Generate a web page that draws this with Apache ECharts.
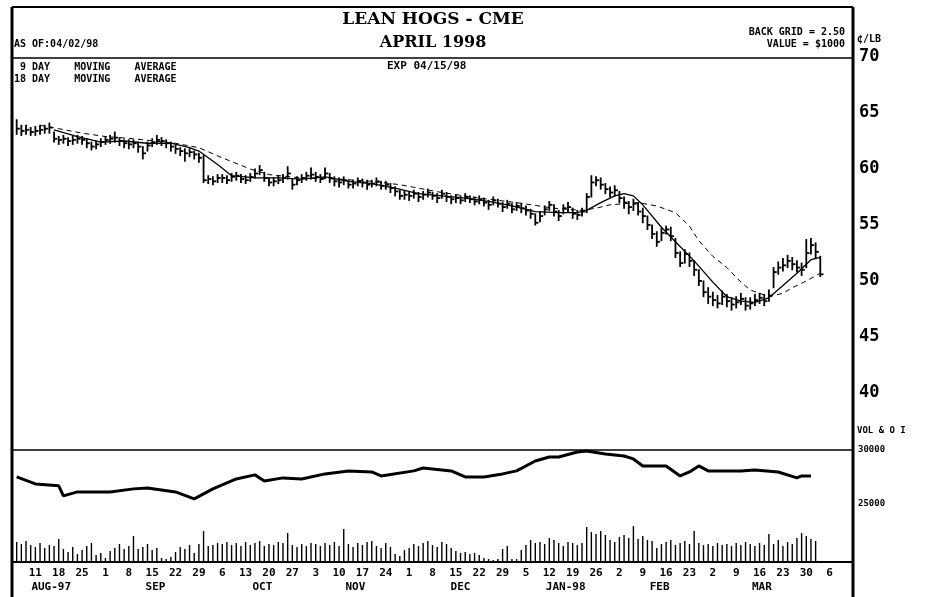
<!DOCTYPE html>
<html><head><meta charset="utf-8">
<script src="https://cdn.jsdelivr.net/npm/echarts@6/dist/echarts.min.js"></script>
<style>html,body{margin:0;padding:0;background:#fff}#c{width:929px;height:597px}</style>
</head><body><div id="c"></div>
<script>
// trading-day index: 0 = Mon Aug 4 1997, 5 trading days per week
const firstDay = 1;
const highs = [64.4,63.9,63.9,63.7,
63.8,63.9,63.9,64.1,63.3, 62.9,63.0,62.8,62.9,63.0, 62.9,62.7,62.4,62.5,62.7,
62.9,63.0,63.3,62.8,62.6, 62.6,62.6,62.4,62.0,62.4, 62.7,63.0,62.8,62.6,62.4,
62.1,61.9,61.8,61.8,61.6, 61.4,61.2,59.4,59.3,59.5, 59.5,59.4,59.6,59.7,59.5,
59.4,59.6,60.0,60.3,59.7, 59.2,59.2,59.4,59.5,60.2, 59.1,59.3,59.5,59.7,60.1,
59.7,59.5,60.1,59.6,59.3, 59.2,59.3,59.0,59.0,59.2, 59.1,59.0,59.0,59.2,58.9,
58.9,58.7,58.4,58.1,58.0, 57.9,58.1,57.9,58.0,58.2, 57.9,57.8,58.1,57.9,57.6,
57.7,57.6,57.8,57.6,57.5, 57.6,57.4,57.2,57.5,57.3, 57.0,57.2,56.9,57.0,56.9,
56.7,56.4,56.0,56.2,56.7, 57.1,56.8,56.3,56.8,57.0, 56.5,56.3,56.5,57.8,59.4,
59.3,59.2,58.7,58.4,58.5, 58.0,57.5,57.1,57.3,57.0, 56.5,55.8,55.0,54.4,54.7,
54.9,54.8,53.8,52.6,52.8, 52.5,51.8,51.0,50.0,49.4, 49.0,48.7,49.1,48.8,48.5,
48.6,48.9,48.5,48.5,48.8, 48.9,48.8,49.2,51.2,51.7, 52.0,52.3,52.1,51.8,51.6,
53.7,53.8,53.4,52.2];
const lows = [63.1,63.0,63.1,63.0,
63.0,63.1,63.2,63.2,62.4, 62.2,62.3,62.1,62.2,62.3, 62.2,61.9,61.7,61.8,62.0,
62.2,62.3,62.4,62.1,61.9, 61.8,61.9,61.5,60.9,61.6, 62.0,62.2,62.1,61.9,61.6,
61.4,61.2,60.7,61.1,60.9, 60.6,58.8,58.7,58.6,58.8, 58.8,58.7,58.9,59.0,58.8,
58.7,58.9,59.2,59.5,58.9, 58.5,58.5,58.7,58.8,59.1, 58.2,58.6,58.8,59.0,59.1,
58.9,58.8,59.2,58.8,58.5, 58.4,58.6,58.3,58.3,58.5, 58.4,58.2,58.4,58.5,58.2,
58.2,57.9,57.6,57.3,57.3, 57.2,57.4,57.1,57.3,57.5, 57.3,57.0,57.4,57.1,56.9,
57.0,56.9,57.1,57.0,56.8, 56.9,56.7,56.4,56.8,56.6, 56.2,56.5,56.1,56.3,56.1,
55.9,55.6,55.0,55.3,55.9, 56.3,55.8,55.4,56.0,56.2, 55.6,55.5,55.8,56.1,57.5,
58.5,58.2,57.8,57.5,57.6, 57.0,56.5,56.0,56.3,55.9, 55.2,54.6,53.8,53.1,53.6,
54.2,53.6,52.1,51.3,51.6, 51.3,50.5,49.6,48.6,48.0, 47.8,47.6,47.9,47.7,47.4,
47.6,47.9,47.4,47.5,47.8, 48.0,47.8,48.2,49.4,50.6, 50.9,51.2,51.0,50.8,50.5,
51.2,52.4,52.0,50.4];
const closes = [63.6,63.4,63.5,63.3,
63.4,63.5,63.6,63.7,62.7, 62.6,62.7,62.5,62.6,62.7, 62.6,62.3,62.0,62.2,62.4,
62.6,62.7,62.8,62.5,62.3, 62.2,62.3,62.0,61.4,62.1, 62.4,62.6,62.5,62.3,62.0,
61.8,61.6,61.4,61.5,61.3, 61.0,59.0,59.1,58.9,59.2, 59.2,59.0,59.3,59.4,59.1,
59.0,59.3,59.6,59.9,59.2, 58.8,58.9,59.0,59.2,59.6, 58.6,59.0,59.2,59.4,59.5,
59.3,59.1,59.6,59.2,58.9, 58.8,59.0,58.6,58.7,58.9, 58.8,58.6,58.7,58.9,58.5,
58.6,58.3,58.0,57.6,57.7, 57.6,57.8,57.5,57.7,57.9, 57.6,57.4,57.8,57.5,57.3,
57.4,57.2,57.5,57.3,57.1, 57.3,57.0,56.8,57.2,56.9, 56.6,56.9,56.4,56.7,56.5,
56.3,56.0,55.2,55.8,56.4, 56.8,56.2,55.8,56.5,56.6, 56.0,55.9,56.2,57.5,58.8,
59.0,58.6,58.2,57.9,58.1, 57.4,57.0,56.6,56.9,56.2, 55.8,55.0,54.2,53.5,54.3,
54.6,54.0,52.5,51.6,52.4, 51.8,51.0,50.0,49.0,48.6, 48.3,48.0,48.6,48.2,47.9,
48.1,48.4,47.8,48.0,48.3, 48.5,48.2,48.7,50.8,51.2, 51.4,51.8,51.5,51.2,51.0,
52.5,53.2,52.6,50.6];
const volumes = [4000,3600,4200,3400,
3000,3800,2800,3400,3200, 4600,2600,2000,3000,1600, 2400,3200,3800,1400,1800,
800,2200,2800,3600,2600, 3200,5200,2600,3000,3600, 2400,2800,800,600,1000,
2000,3000,2600,3400,1800, 3600,6200,3200,3400,3800, 3600,4000,3400,3800,3200,
4000,3400,3800,4200,3200, 3600,3400,4000,3800,5800, 3400,3000,3600,3200,3800,
3600,3200,3800,3400,4000, 3200,6600,3600,3000,3800, 3400,4000,4200,3200,2800,
3800,3000,1600,1200,2400, 2800,3600,3200,3800,4200, 3400,3000,4000,3600,2800,
2200,1800,2000,1600,1800, 1400,800,600,400,600, 2600,3200,600,600,2400,
3400,4400,3800,4000,3600, 4800,4400,3800,3200,4000, 3800,3400,3800,7000,6000,
5600,6200,5400,4400,4000, 5000,5400,4800,7200,4600, 5200,4400,4200,2800,3600,
4000,4400,3400,3800,4200, 3600,6200,3800,3400,3600, 3200,3800,3400,3600,3200,
3800,3400,4000,3600,3200, 3800,3400,5600,3600,4400, 3200,4000,3600,4800,5800,
5200,4600,4200];
const ma9Day = [9,14,19,24,29,34,38,40,42,44,47,52,57,62,67,72,77,82,87,92,97,102,107,112,117,121,123,126,129,131,133,135,139,142,146,150,153,156,159,162,165,168,171,173];
const ma9 = [63.5,62.9,62.4,62.5,62.3,62.3,61.9,61.6,61.0,60.4,59.4,59.2,59.2,59.1,59.3,58.9,58.7,58.3,57.8,57.6,57.4,57.1,56.7,56.2,56.1,56.1,56.3,57.0,57.6,57.8,57.6,56.8,54.8,53.5,51.8,49.9,48.6,48.2,48.1,48.5,49.6,50.7,51.9,52.1];
const ma18Day = [6,10,15,20,26,35,40,45,51,55,62,70,77,83,92,100,108,116,122,125,128,134,138,142,145,147,150,153,156,158,160,162,165,167,170,173];
const ma18 = [63.9,63.6,63.2,62.9,62.7,62.3,61.9,61.0,60.0,59.5,59.2,59.1,58.9,58.6,57.9,57.4,57.0,56.5,56.3,56.5,56.8,57.0,56.7,56.1,54.9,53.6,52.2,51.2,49.9,49.2,48.9,48.6,48.9,49.4,50.0,50.7];
const oiDay = [1,5,10,11,14,21,26,29,35,39,43,48,52,54,58,62,67,72,77,79,86,88,94,97,101,105,108,112,115,117,121,123,127,131,133,135,140,143,145,147,149,156,159,164,168,169,171];
const oi = [27500,26850,26670,25740,26110,26110,26390,26480,26110,25460,26390,27310,27690,27130,27410,27310,27780,28060,27960,27590,28060,28330,28060,27500,27500,27780,28060,28980,29350,29350,29810,29910,29630,29440,29170,28520,28520,27590,27960,28520,28060,28060,28150,27960,27410,27590,27590];
const weekLabels = ['11','18','25','1','8','15','22','29','6','13','20','27','3','10','17','24','1','8','15','22','29','5','12','19','26','2','9','16','23','2','9','16','23','30','6'];
const monthNames = ['AUG-97','SEP','OCT','NOV','DEC','JAN-98','FEB','MAR'];
const monthMidDay = [8.4,30.7,53.6,73.5,96,118.5,138.6,160.5];
const oiTicks = [25000,30000];

const hlc = closes.map((c,i)=>[firstDay+i, highs[i], lows[i], c]);
const vol = volumes.map((v,i)=>[firstDay+i, v]);
const pair = (d,v)=>d.map((x,i)=>[x, v[i]]);

const MONO = '"DejaVu Sans Mono", "Liberation Mono", monospace';
const SERIF = '"DejaVu Serif", "Liberation Serif", serif';
const L = 12, R = 853;
const txt = (x,y,text,size,align,font)=>({type:'text', x, y, style:{text, font:`bold ${size}px ${font||MONO}`, fill:'#000', textAlign:align||'left', textVerticalAlign:'middle'}});
const ln = (x1,y1,x2,y2,w)=>({type:'line', shape:{x1,y1,x2,y2}, style:{stroke:'#000', lineWidth:w}});

const chart = echarts.init(document.getElementById('c'), null, {renderer:'canvas'});
chart.setOption({
  animation:false,
  backgroundColor:'#fff',
  grid:[
    {left:L, right:929-R, top:57, height:392},
    {left:L, right:929-R, top:450, height:112},
    {left:L, right:929-R, top:517, height:45}
  ],
  xAxis:[
    {gridIndex:0, type:'value', min:0, max:180, show:false},
    {gridIndex:1, type:'value', min:0, max:180, show:false},
    {gridIndex:2, type:'value', min:0, max:180, interval:5, position:'bottom',
      axisLine:{show:true, onZero:false, lineStyle:{color:'#000', width:2}},
      axisTick:{show:false}, splitLine:{show:false},
      axisLabel:{margin:6, color:'#000', fontFamily:MONO, fontWeight:'bold', fontSize:11, showMinLabel:true, showMaxLabel:true,
        formatter:v=>{const i=Math.round(v/5)-1; return (i>=0 && i<weekLabels.length)?weekLabels[i]:'';}}},
    {gridIndex:2, type:'value', min:0, max:180, position:'bottom',
      axisLine:{show:false}, axisTick:{show:false}, splitLine:{show:false},
      axisLabel:{margin:20, color:'#000', fontFamily:MONO, fontWeight:'bold', fontSize:11, customValues:monthMidDay,
        formatter:v=>{const i=monthMidDay.indexOf(v); return i>=0?monthNames[i]:'';}}}
  ],
  yAxis:[
    {gridIndex:0, type:'value', min:35, max:70, interval:5, position:'right',
      axisLine:{show:false}, axisTick:{show:false}, splitLine:{show:false},
      axisLabel:{margin:6, color:'#000', fontFamily:MONO, fontWeight:'bold', fontSize:17, formatter:v=>v===35?'':String(v)}},
    {gridIndex:1, type:'value', min:19600, max:30000, position:'right',
      axisLine:{show:false}, axisTick:{show:false}, splitLine:{show:false},
      axisLabel:{margin:5, color:'#000', fontFamily:MONO, fontWeight:'bold', fontSize:9, customValues:oiTicks, formatter:v=>String(v)}},
    {gridIndex:2, type:'value', min:0, max:9000, show:false}
  ],
  series:[
    {type:'custom', xAxisIndex:0, yAxisIndex:0, data:hlc, dimensions:['d','high','low','close'],
      encode:{x:0, y:[1,2,3]},
      renderItem:(p,api)=>{
        const d=api.value(0);
        const h=api.coord([d,api.value(1)]), lo=api.coord([d,api.value(2)]), c=api.coord([d,api.value(3)]);
        return {type:'group', children:[
          {type:'line', shape:{x1:h[0],y1:h[1]-0.5,x2:lo[0],y2:lo[1]+0.5}, style:{stroke:'#000', lineWidth:1.8}},
          {type:'line', shape:{x1:c[0],y1:c[1],x2:c[0]+3.2,y2:c[1]}, style:{stroke:'#000', lineWidth:1.8}}
        ]};
      }},
    {type:'line', xAxisIndex:0, yAxisIndex:0, data:pair(ma9Day,ma9), symbol:'none', lineStyle:{color:'#000', width:1.3}},
    {type:'line', xAxisIndex:0, yAxisIndex:0, data:pair(ma18Day,ma18), symbol:'none', lineStyle:{color:'#000', width:1, type:[5,4]}},
    {type:'line', xAxisIndex:1, yAxisIndex:1, data:pair(oiDay,oi), symbol:'none', lineStyle:{color:'#000', width:3}},
    {type:'bar', xAxisIndex:2, yAxisIndex:2, data:vol, barWidth:1.4, itemStyle:{color:'#000'}}
  ],
  graphic:[
    ln(L,7,R,7,2), ln(L,58,R,58,1.5), ln(L,450,R,450,1.5),
    ln(L,7,L,597,3), ln(R,7,R,597,3),
    txt(433,20,'LEAN HOGS - CME',17,'center',SERIF),
    txt(433,43,'APRIL 1998',16,'center',SERIF),
    txt(14,44,'AS OF:04/02/98',10,'left'),
    txt(845,32,'BACK GRID = 2.50',10,'right'),
    txt(845,44,'VALUE = $1000',10,'right'),
    txt(857,39,'¢/LB',10,'left'),
    txt(14,67,' 9 DAY    MOVING    AVERAGE',10,'left'),
    txt(14,79,'18 DAY    MOVING    AVERAGE',10,'left'),
    txt(387,66,'EXP 04/15/98',11,'left'),
    txt(857,431,'VOL & O I',9,'left')
  ]
});
</script></body></html>
